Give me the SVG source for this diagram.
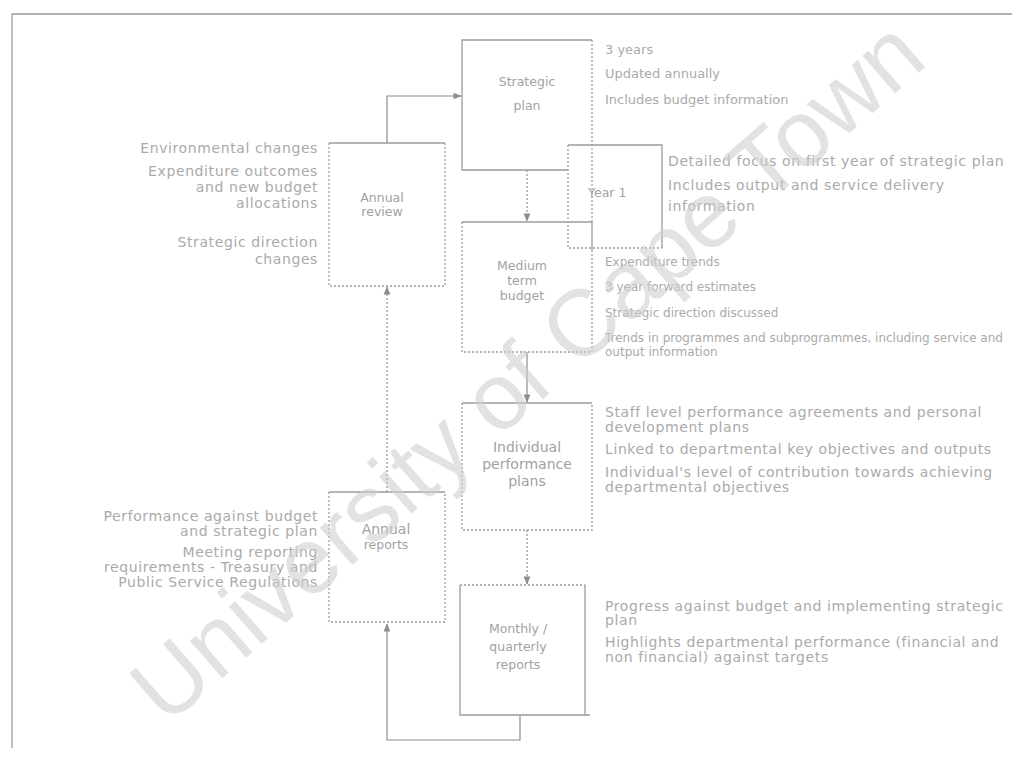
<svg xmlns="http://www.w3.org/2000/svg" width="1012" height="760" viewBox="0 0 1012 760">
<defs>
<style>
.t{font-family:"DejaVu Sans","Liberation Sans",sans-serif;font-size:14px;letter-spacing:0.6px;fill:#aaaaaa}
.m{font-family:"DejaVu Sans","Liberation Sans",sans-serif;font-size:12px;fill:#aaaaaa}
.s{font-family:"DejaVu Sans","Liberation Sans",sans-serif;font-size:13px;fill:#aaaaaa}
.b{font-family:"DejaVu Sans","Liberation Sans",sans-serif;font-size:12.5px;fill:#a2a2a2}
.bw{font-family:"DejaVu Sans","Liberation Sans",sans-serif;font-size:14px;fill:#a2a2a2}
.r{text-anchor:end}
.c{text-anchor:middle}
.edge{stroke:#9c9c9c;stroke-width:1.3;fill:none}
.dot{stroke:#9c9c9c;stroke-width:1.3;fill:none;stroke-dasharray:2 2}
.con{stroke:#8c8c8c;stroke-width:1.2;fill:none}
.cond{stroke:#8c8c8c;stroke-width:1.2;fill:none;stroke-dasharray:2 2}
.wm{font-family:"Liberation Sans",Arial,sans-serif;font-size:94px;fill:#cfcfcf;opacity:0.6}
</style>
<marker id="ah" viewBox="0 0 10 10" refX="9" refY="5" markerWidth="7" markerHeight="7" orient="auto-start-reverse">
<path d="M0,1 L10,5 L0,9 z" fill="#8c8c8c"/>
</marker>
</defs>
<rect width="1012" height="760" fill="#ffffff"/>
<g id="frame">
<path class="edge" d="M12,748 V14 H1012"/>
</g>
<g id="connectors">
<path class="con" d="M387,143 V96 H461" marker-end="url(#ah)"/>
<path class="cond" d="M527,170 V221" marker-end="url(#ah)"/>
<path class="con" d="M527,352 V402" marker-end="url(#ah)"/>
<path class="cond" d="M527,530 V584" marker-end="url(#ah)"/>
<path class="cond" d="M387,492 V287" marker-end="url(#ah)"/>
<path class="con" d="M520,715 V740 H387 V624" marker-end="url(#ah)"/>
</g>
<g id="strategic-plan">
<path class="edge" d="M592,40 H462 V170 H568"/>
<path class="dot" d="M592,40 V250"/>
<text class="b c" x="527" y="86">Strategic</text>
<text class="b c" x="527" y="110">plan</text>
<text class="s" x="605" y="54">3 years</text>
<text class="s" x="605" y="78">Updated annually</text>
<text class="s" x="605" y="104">Includes budget information</text>
</g>
<g id="year-1">
<path class="edge" d="M568,145 H662 V248"/>
<path class="dot" d="M568,145 V248 H662"/>
<text class="b" x="588" y="197">Year 1</text>
<text class="t" x="668" y="166">Detailed focus on first year of strategic plan</text>
<text class="t" x="668" y="190">Includes output and service delivery</text>
<text class="t" x="668" y="211">information</text>
</g>
<g id="annual-review">
<path class="edge" d="M329,143 H445"/>
<path class="dot" d="M329,143 V286 H445 V143"/>
<text class="b c" x="382" y="202">Annual</text>
<text class="b c" x="382" y="216">review</text>
<text class="t r" x="318" y="153">Environmental changes</text>
<text class="t r" x="318" y="176">Expenditure outcomes</text>
<text class="t r" x="318" y="192">and new budget</text>
<text class="t r" x="318" y="208">allocations</text>
<text class="t r" x="318" y="247">Strategic direction</text>
<text class="t r" x="318" y="264">changes</text>
</g>
<g id="medium-term-budget">
<path class="edge" d="M462,222 H592"/>
<path class="dot" d="M462,222 V352 H592 V222"/>
<text class="b c" x="522" y="270">Medium</text>
<text class="b c" x="522" y="285">term</text>
<text class="b c" x="522" y="300">budget</text>
<text class="m" x="605" y="266">Expenditure trends</text>
<text class="m" x="605" y="291">3 year forward estimates</text>
<text class="m" x="605" y="317">Strategic direction discussed</text>
<text class="m" x="605" y="342">Trends in programmes and subprogrammes, including service and</text>
<text class="m" x="605" y="356">output information</text>
</g>
<g id="individual-performance-plans">
<path class="edge" d="M462,403 H592"/>
<path class="dot" d="M462,403 V530 H592 V403"/>
<text class="bw c" x="527" y="452">Individual</text>
<text class="bw c" x="527" y="469">performance</text>
<text class="bw c" x="527" y="486">plans</text>
<text class="t" x="605" y="417">Staff level performance agreements and personal</text>
<text class="t" x="605" y="432">development plans</text>
<text class="t" x="605" y="454">Linked to departmental key objectives and outputs</text>
<text class="t" x="605" y="477">Individual's level of contribution towards achieving</text>
<text class="t" x="605" y="492">departmental objectives</text>
</g>
<g id="annual-reports">
<path class="edge" d="M329,492 H445"/>
<path class="dot" d="M329,492 V622 H445 V492"/>
<text class="bw c" x="386" y="534">Annual</text>
<text class="b c" x="386" y="549">reports</text>
<text class="t r" x="318" y="521">Performance against budget</text>
<text class="t r" x="318" y="536">and strategic plan</text>
<text class="t r" x="318" y="557">Meeting reporting</text>
<text class="t r" x="318" y="572">requirements - Treasury and</text>
<text class="t r" x="318" y="587">Public Service Regulations</text>
</g>
<g id="monthly-quarterly-reports">
<path class="dot" d="M460,585 H585"/>
<path class="edge" d="M460,585 V715 H590 M585,585 V715"/>
<text class="b c" x="518" y="633">Monthly /</text>
<text class="b c" x="518" y="651">quarterly</text>
<text class="b c" x="518" y="669">reports</text>
<text class="t" x="605" y="611">Progress against budget and implementing strategic</text>
<text class="t" x="605" y="625">plan</text>
<text class="t" x="605" y="647">Highlights departmental performance (financial and</text>
<text class="t" x="605" y="662">non financial) against targets</text>
</g>
<g id="watermark">
<text class="wm c" x="548" y="395" transform="rotate(-41 548 395)">University of Cape Town</text>
</g>
</svg>
